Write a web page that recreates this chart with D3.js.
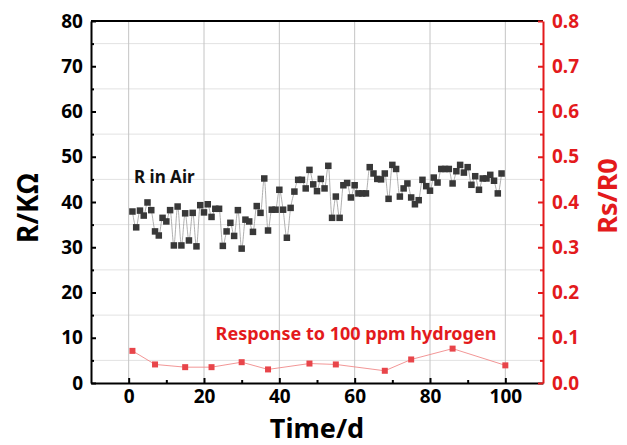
<!DOCTYPE html>
<html><head><meta charset="utf-8">
<script src="https://cdn.jsdelivr.net/npm/d3@7"></script>
<style>
body{margin:0;background:#fff}
svg{display:block;font-family:"Noto Sans","Open Sans",sans-serif;font-weight:bold}
</style>
</head><body>
<svg id="c" width="627" height="445"></svg>
<script>
const airDays = [1,2,3,4,5,6,7,8,9,10,11,12,13,14,15,16,17,18,19,20,21,22,23,24,25,26,27,28,29,30,31,32,33,34,35,36,37,38,39,40,41,42,43,44,45,46,47,48,49,50,51,52,53,54,55,56,57,58,59,60,61,62,63,64,65,66,67,68,69,70,71,72,73,74,75,76,77,78,79,80,81,82,83,84,85,86,87,88,89,90,91,92,93,94,95,96,97,98,99];
const airR = [37.9,34.4,38.1,37.0,39.9,38.2,33.5,32.6,36.5,35.7,38.2,30.4,39.0,30.4,37.5,31.5,37.6,30.2,39.3,37.7,39.5,36.7,38.5,38.5,30.3,33.5,35.4,32.5,38.2,29.7,36.1,35.7,33.4,39.1,37.6,45.2,33.7,38.3,38.3,42.7,38.3,32.1,38.7,42.3,44.9,44.9,43.0,47.1,43.9,42.4,45.1,43.0,48.0,36.5,41.2,36.5,43.7,44.2,41.0,43.7,41.9,41.9,41.9,47.7,46.3,45.1,45.0,46.3,40.7,48.2,47.3,41.2,43.0,44.1,41.0,39.5,40.4,44.9,43.5,42.5,45.4,44.3,47.3,47.3,47.3,44.1,46.8,48.2,46.5,47.7,43.8,45.7,42.7,45.2,45.2,46.0,44.7,41.9,46.3];
const respDays = [1,7,15,22,30,37,48,55,68,75,86,100];
const response = [0.071,0.041,0.035,0.035,0.046,0.030,0.043,0.041,0.027,0.052,0.076,0.039];
const xTicks = [0,20,40,60,80,100];
const xMinor = [10,30,50,70,90];
const leftTicks = [0,10,20,30,40,50,60,70,80];
const leftMinor = [5,15,25,35,45,55,65,75];
const rightTicks = [0,0.1,0.2,0.3,0.4,0.5,0.6,0.7,0.8];
const rightMinor = [0.05,0.15,0.25,0.35,0.45,0.55,0.65,0.75];

const RED = "#e31a1c";
const L = 91, R = 543, T = 21, B = 383;
const svg = d3.select("#c");
const x = d3.scaleLinear().domain([-10,110]).range([L,R]);
const yL = d3.scaleLinear().domain([0,80]).range([B,T]);
const yR = d3.scaleLinear().domain([0,0.8]).range([B,T]);

// grid
svg.append("g").selectAll("line").data(leftMinor).join("line")
  .attr("x1",L).attr("x2",R).attr("y1",d=>yL(d)).attr("y2",d=>yL(d))
  .attr("stroke","#e2e2e2").attr("stroke-width",1);
svg.append("g").selectAll("line").data(xTicks).join("line")
  .attr("x1",d=>x(d)).attr("x2",d=>x(d)).attr("y1",T).attr("y2",B)
  .attr("stroke","#c4c4c4").attr("stroke-width",1);

// top border
svg.append("line").attr("x1",L).attr("x2",R).attr("y1",T).attr("y2",T)
  .attr("stroke","#000").attr("stroke-width",2);

function styleAxis(g, color){
  g.select(".domain").attr("stroke",color).attr("stroke-width",2);
  g.selectAll(".tick line").attr("stroke",color).attr("stroke-width",2);
  g.selectAll("text").attr("fill",color).style("font-size","19px").style("font-weight","bold")
   .style("font-family",'"Noto Sans","Open Sans",sans-serif');
}

// x axis
const gx = svg.append("g").attr("transform",`translate(0,${B})`)
  .call(d3.axisBottom(x).tickValues(xTicks).tickSize(-5).tickSizeOuter(0).tickPadding(7));
styleAxis(gx,"#000");
const gxm = svg.append("g").attr("transform",`translate(0,${B})`)
  .call(d3.axisBottom(x).tickValues(xMinor).tickSize(-3).tickSizeOuter(0).tickFormat(""));
styleAxis(gxm,"#000"); gxm.select(".domain").remove();

// left axis
const gl = svg.append("g").attr("transform",`translate(${L},0)`)
  .call(d3.axisLeft(yL).tickValues(leftTicks).tickSize(-5).tickSizeOuter(0).tickPadding(8));
styleAxis(gl,"#000");
const glm = svg.append("g").attr("transform",`translate(${L},0)`)
  .call(d3.axisLeft(yL).tickValues(leftMinor).tickSize(-3).tickSizeOuter(0).tickFormat(""));
styleAxis(glm,"#000"); glm.select(".domain").remove();

// right axis
const gr = svg.append("g").attr("transform",`translate(${R},0)`)
  .call(d3.axisRight(yR).tickValues(rightTicks).tickSize(-5).tickSizeOuter(0).tickPadding(9).tickFormat(d3.format(".1f")));
styleAxis(gr,RED);
const grm = svg.append("g").attr("transform",`translate(${R},0)`)
  .call(d3.axisRight(yR).tickValues(rightMinor).tickSize(-3).tickSizeOuter(0).tickFormat(""));
styleAxis(grm,RED); grm.select(".domain").remove();

// air series
const airData = airDays.map((d,i)=>[d,airR[i]]);
svg.append("path").datum(airData)
  .attr("d",d3.line().x(d=>x(d[0])).y(d=>yL(d[1])).curve(d3.curveMonotoneX))
  .attr("fill","none").attr("stroke","#9a9a9a").attr("stroke-width",0.8);
const sq = 6.5;
svg.append("g").selectAll("rect").data(airData).join("rect")
  .attr("x",d=>x(d[0])-sq/2).attr("y",d=>yL(d[1])-sq/2)
  .attr("width",sq).attr("height",sq).attr("fill","#383838");

// response series
const respData = respDays.map((d,i)=>[d,response[i]]);
svg.append("path").datum(respData)
  .attr("d",d3.line().x(d=>x(d[0])).y(d=>yR(d[1])))
  .attr("fill","none").attr("stroke","#f08a8a").attr("stroke-width",0.9);
const rs = 6;
svg.append("g").selectAll("rect").data(respData).join("rect")
  .attr("x",d=>x(d[0])-rs/2).attr("y",d=>yR(d[1])-rs/2)
  .attr("width",rs).attr("height",rs).attr("fill","#e8454a");

// labels
svg.append("text").attr("x",134).attr("y",183).attr("fill","#111")
  .style("font-size","17px").text("R in Air");
svg.append("text").attr("x",356).attr("y",340).attr("text-anchor","middle").attr("fill",RED)
  .style("font-size","18px").text("Response to 100 ppm hydrogen");

svg.append("text").attr("x",(x(0)+x(100))/2).attr("y",438).attr("text-anchor","middle")
  .attr("fill","#000").style("font-size","27px").text("Time/d");
svg.append("text").attr("transform","translate(38,208) rotate(-90)").attr("text-anchor","middle")
  .attr("fill","#000").style("font-size","28px").text("R/KΩ");
svg.append("text").attr("transform","translate(617,196) rotate(-90)").attr("text-anchor","middle")
  .attr("fill",RED).style("font-size","27px").text("Rs/R0");
</script>
</body></html>
